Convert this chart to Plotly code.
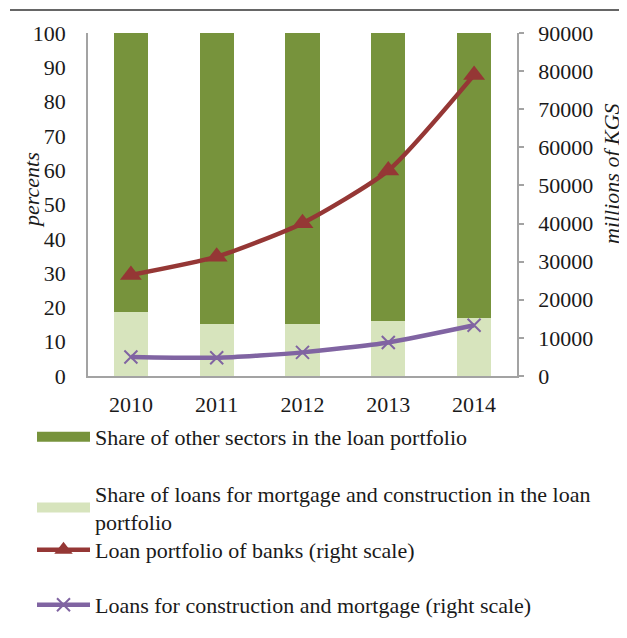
import plotly.graph_objects as go

years = ["2010", "2011", "2012", "2013", "2014"]
share_other = [81.3, 84.8, 84.8, 84.0, 83.2]
share_mortgage = [18.7, 15.2, 15.2, 16.0, 16.8]
loan_portfolio = [26500, 31300, 40100, 53900, 79000]
loans_construction = [5000, 4800, 6200, 8800, 13300]

name_other = "Share of other sectors in the loan portfolio"
name_mortgage = "Share of loans for mortgage and construction in the loan<br>portfolio"
name_portfolio = "Loan portfolio of banks (right scale)"
name_construction = "Loans for construction and mortgage (right scale)"

FONT = "Liberation Serif"
GRAY = "#A3A3A3"
TXT = "#1a1a1a"
DARK_GREEN = "#77933C"
LIGHT_GREEN = "#D7E4BD"
RED = "#953735"
PURPLE = "#8064A2"

fig = go.Figure()
fig.add_trace(go.Bar(
    x=years, y=share_mortgage, name=name_mortgage, showlegend=False,
    marker=dict(color=LIGHT_GREEN, line=dict(width=0)), width=0.4))
fig.add_trace(go.Bar(
    x=years, y=share_other, name=name_other, showlegend=False,
    marker=dict(color=DARK_GREEN, line=dict(width=0)), width=0.4))
fig.add_trace(go.Scatter(
    x=years, y=loan_portfolio, name=name_portfolio, yaxis="y2",
    mode="lines+markers", line=dict(color=RED, width=4.5, shape="spline", smoothing=0.6),
    marker=dict(symbol="triangle-up", size=19, color=RED), legend="legend3"))
fig.add_trace(go.Scatter(
    x=years, y=loans_construction, name=name_construction, yaxis="y2",
    mode="lines+markers", line=dict(color=PURPLE, width=4.5, shape="spline", smoothing=0.6),
    marker=dict(symbol="x-thin", size=13, color=PURPLE, line=dict(width=2, color=PURPLE)),
    legend="legend4"))
# legend-only entries for the bar series (wide rectangular swatches)
fig.add_trace(go.Scatter(
    x=[None], y=[None], name=name_other, mode="lines",
    line=dict(color=DARK_GREEN, width=10), legend="legend"))
fig.add_trace(go.Scatter(
    x=[None], y=[None], name=name_mortgage, mode="lines",
    line=dict(color=LIGHT_GREEN, width=10), legend="legend2"))

# page body has an 8px margin: figure origin sits at (8, 8) of the window
OFF = 8

def px_x(px):
    return (px - 88) / 429.0

def px_y(py):
    return (376 - py) / 343.0

leg_common = dict(xanchor="left", yanchor="middle", bgcolor="rgba(0,0,0,0)",
                  font=dict(family=FONT, size=22, color=TXT), itemwidth=53,
                  itemclick=False, itemdoubleclick=False)

LX = 32

fig.update_layout(
    width=627 - OFF, height=638 - OFF,
    margin=dict(l=88 - OFF, r=110, t=33 - OFF, b=262),
    paper_bgcolor="white", plot_bgcolor="white",
    barmode="stack", bargap=0.6,
    font=dict(family=FONT, size=22, color=TXT),
    xaxis=dict(type="category", showline=True, linecolor=GRAY, linewidth=1.5,
               ticks="", showgrid=False, tickfont=dict(size=22), ticklabelstandoff=8),
    yaxis=dict(range=[0, 100], dtick=10, showline=True, linecolor=GRAY, linewidth=1.5,
               ticks="", showgrid=False, zeroline=False, tickfont=dict(size=22),
               ticklabelstandoff=16),
    yaxis2=dict(range=[0, 90000], dtick=10000, overlaying="y", side="right",
                showline=True, linecolor=GRAY, linewidth=1.5, ticks="outside",
                ticklen=5, tickcolor=GRAY, tickwidth=1.5, showgrid=False, zeroline=False,
                tickformat="d", tickfont=dict(size=22), ticklabelstandoff=10),
    showlegend=True,
    legend=dict(x=px_x(LX), y=px_y(437), **leg_common),
    legend2=dict(x=px_x(LX), y=px_y(508), **leg_common),
    legend3=dict(x=px_x(LX), y=px_y(550), **leg_common),
    legend4=dict(x=px_x(LX), y=px_y(605), **leg_common),
    annotations=[
        dict(text="<i>percents</i>", x=px_x(31), y=px_y(190), xref="paper", yref="paper",
             xanchor="center", yanchor="middle", borderpad=0,
             textangle=-90, showarrow=False, font=dict(size=22, family=FONT, color=TXT)),
        dict(text="<i>millions of KGS</i>", x=px_x(611), y=px_y(174), xref="paper", yref="paper",
             xanchor="center", yanchor="middle", borderpad=0,
             textangle=-90, showarrow=False, font=dict(size=22, family=FONT, color=TXT)),
    ],
    shapes=[dict(type="line", xref="paper", yref="paper", x0=px_x(10), x1=px_x(640),
                 y0=px_y(10), y1=px_y(10), line=dict(color="#333333", width=1.5))],
)

fig.write_html("out.html")
